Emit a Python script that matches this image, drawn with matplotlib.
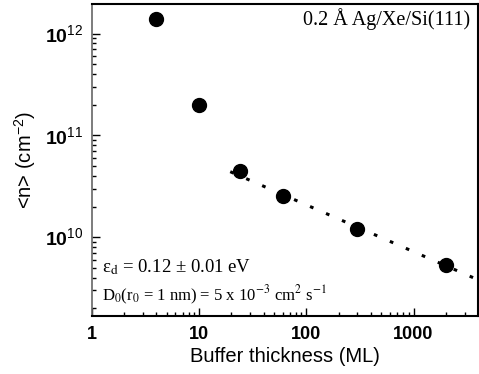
import numpy as np
import matplotlib
matplotlib.use("Agg")
import matplotlib.pyplot as plt
from matplotlib.ticker import FuncFormatter, LogLocator, NullFormatter

plt.rcParams['font.family'] = 'Liberation Sans'
plt.rcParams['mathtext.fontset'] = 'custom'
plt.rcParams['mathtext.rm'] = 'Liberation Sans'
plt.rcParams['mathtext.bf'] = 'Liberation Sans:bold'

# data
thickness = [4, 10, 24, 60, 300, 2000]          # buffer thickness (ML)
density = [1.4e12, 2.0e11, 4.5e10, 2.55e10, 1.2e10, 5.3e9]   # <n> (cm^-2)

# dotted fit line end points
fit_x = [19.5, 3700]
fit_y = [4.4e10, 3.95e9]

fig = plt.figure(figsize=(4.79, 3.74), dpi=100)
ax = fig.add_axes([0.192, 0.155, 0.806, 0.834])

ax.plot(fit_x, fit_y, color='black', lw=2.2, linestyle=(0, (1.2, 4.5)), dash_capstyle='butt')
ax.plot(thickness, density, 'o', color='black', markersize=10)

ax.set_xscale('log')
ax.set_yscale('log')
ax.set_xlim(1, 4000)
ax.set_ylim(10**9.225, 10**12.29)

ax.xaxis.set_major_locator(LogLocator(base=10, numticks=10))
ax.xaxis.set_minor_locator(LogLocator(base=10, subs=np.arange(2, 10), numticks=10))
ax.yaxis.set_major_locator(LogLocator(base=10, numticks=10))
ax.yaxis.set_minor_locator(LogLocator(base=10, subs=np.arange(2, 10), numticks=10))
ax.xaxis.set_major_formatter(FuncFormatter(lambda v, p: '%d' % round(v)))
ax.yaxis.set_major_formatter(FuncFormatter(lambda v, p: r'$\mathbf{10}^{%d}$' % round(np.log10(v))))
ax.xaxis.set_minor_formatter(NullFormatter())
ax.yaxis.set_minor_formatter(NullFormatter())

ax.tick_params(which='both', direction='in', top=False, right=False)
ax.tick_params(which='major', length=6, width=1)
ax.tick_params(which='minor', length=3, width=1)
ax.tick_params(axis='x', labelsize=13, pad=7)
ax.tick_params(axis='y', labelsize=14, pad=6)
for lab in ax.get_xticklabels():
    lab.set_fontweight('bold')

for s in ['top', 'right', 'bottom']:
    ax.spines[s].set_linewidth(1.5)
ax.spines['left'].set_linewidth(1.2)
ax.spines['left'].set_color('#666666')

ax.set_xlabel('Buffer thickness (ML)', fontsize=14.5, labelpad=3)
ax.set_ylabel(r'<n> (cm$^{-2}$)', fontsize=14.5, labelpad=5)

ax.text(0.98, 0.952, u'0.2 Å Ag/Xe/Si(111)', transform=ax.transAxes, ha='right', va='center',
        fontsize=14.5, family='Liberation Serif')
ax.text(0.026, 0.156, u'ε$_{\\rm d}$ = 0.12 ± 0.01 eV', transform=ax.transAxes,
        ha='left', va='center', fontsize=13.5, family='Liberation Serif', math_fontfamily='stix')
ax.text(0.026, 0.066, r'D$_0$(r$_0$ = 1 nm) = 5 x 10$^{-3}$ cm$^2$ s$^{-1}$', transform=ax.transAxes,
        ha='left', va='center', fontsize=12, family='Liberation Serif', math_fontfamily='stix')

fig.savefig('out.png', dpi=100)
